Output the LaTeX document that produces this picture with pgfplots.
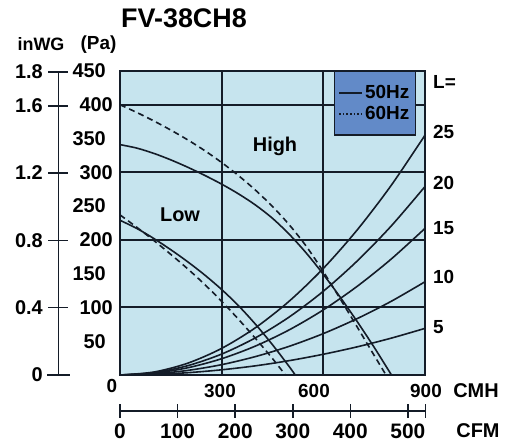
\documentclass[border=0pt]{standalone}
\usepackage{pgfplots}
\pgfplotsset{compat=1.18}
\usepackage{fontspec}
\setmainfont{Liberation Sans}
\definecolor{chartbg}{RGB}{198,228,238}
\definecolor{legbg}{RGB}{98,138,200}
\definecolor{ink}{RGB}{20,28,40}
\newcommand{\fs}[1]{\bfseries\fontsize{#1}{#1}\selectfont}

\begin{document}
\begin{tikzpicture}[x=1bp,y=1bp]
\path[use as bounding box] (0,0) rectangle (505,443);
\begin{axis}[
  at={(120bp,68bp)}, anchor=south west,
  scale only axis, width=305bp, height=304bp,
  xmin=0, xmax=900, ymin=0, ymax=450,
  axis background/.style={fill=chartbg},
  axis line style={line width=2.2bp, ink},
  axis on top,
  xtick={300,600}, xticklabels={},
  ytick={100,200,300,400},
  extra y ticks={50,150,250,350,450},
  extra y tick style={grid=none, yticklabel style={font=\fs{20}, inner sep=0pt, xshift=-7bp}},
  xmajorgrids, ymajorgrids,
  major tick length=0pt,
  grid style={line width=2bp, ink},
  yticklabel style={font=\fs{20}, inner sep=0pt, xshift=-7bp},
  /pgf/number format/assume math mode=true,
  legend style={at={(1,1)}, anchor=north east, xshift=-9bp,
    fill=legbg, draw=ink, line width=1.5bp, font=\fs{19},
    inner xsep=4bp, inner ysep=12bp, row sep=2bp},
  legend cell align=left,
  legend image code/.code={\draw[#1] (0bp,0bp) -- (23bp,0bp);},
]
% system curves L = 5 ... 25
\addplot[ink, line width=1.6bp, smooth, forget plot] coordinates {(0,0) (100,4.4) (200,17.5) (300,39.4) (400,70.1) (500,109.6) (600,157.8) (700,214.8) (800,280.5) (900,355)};
\addplot[ink, line width=1.6bp, smooth, forget plot] coordinates {(0,0) (100,3.4) (200,13.8) (300,31.0) (400,55.1) (500,86.1) (600,124.0) (700,168.8) (800,220.4) (900,279)};
\addplot[ink, line width=1.6bp, smooth, forget plot] coordinates {(0,0) (100,2.7) (200,10.7) (300,24.1) (400,42.9) (500,67.0) (600,96.4) (700,131.3) (800,171.5) (900,217)};
\addplot[ink, line width=1.6bp, smooth, forget plot] coordinates {(0,0) (100,1.7) (200,6.8) (300,15.3) (400,27.3) (500,42.6) (600,61.3) (700,83.5) (800,109.0) (900,138)};
\addplot[ink, line width=1.6bp, smooth, forget plot] coordinates {(0,0) (100,0.85) (200,3.4) (300,7.7) (400,13.6) (500,21.3) (600,30.7) (700,41.7) (800,54.5) (900,69)};
% High
\addplot[ink, line width=1.6bp, smooth, forget plot] coordinates {(0,341) (50,335.8) (100,328) (150,318.4) (200,307.5) (250,295.5) (300,282.5) (350,268) (400,251.5) (450,231.9) (500,208) (550,180.3) (600,149) (650,115) (700,79) (750,41) (801,0)};
\addplot[ink, line width=1.6bp, smooth, dash pattern=on 6bp off 4bp, forget plot] coordinates {(0,400) (50,388.5) (100,376) (150,362.5) (200,348) (250,332.1) (300,314.5) (350,295) (400,273.5) (450,249.4) (500,222) (550,190.3) (600,153) (650,112.5) (700,71) (750,29) (785,0)};
% Low
\addplot[ink, line width=1.6bp, smooth, forget plot] coordinates {(0,229) (50,216.8) (100,202) (150,185.4) (200,167.5) (250,148) (300,126.5) (350,102.4) (400,75) (450,44.8) (500,12) (517,0)};
\addplot[ink, line width=1.6bp, smooth, dash pattern=on 6bp off 4bp, forget plot] coordinates {(0,237) (50,218.5) (100,199) (150,178.5) (200,157) (250,134) (300,109) (350,82.3) (400,54) (450,24.3) (488,0)};
\addlegendimage{ink, line width=1.6bp}
\addlegendentry{50Hz}
\addlegendimage{ink, line width=1.6bp, dotted}
\addlegendentry{60Hz}
\end{axis}

% titles
\node[font=\fs{27}] at (184,425) {FV-38CH8};
\node[font=\fs{18}] at (41,399) {inWG};
\node[font=\fs{19}] at (98.5,398) {(Pa)};
\node[font=\fs{20}] at (275,297) {High};
\node[font=\fs{20}] at (180,228.5) {Low};

% inWG scale
\draw[ink, line width=1.6bp] (58.3,68) -- (58.3,371);
\foreach \y/\t in {371/1.8, 337.2/1.6, 270/1.2, 202.6/0.8, 135.3/0.4} {
  \draw[ink, line width=1.6bp] (48,\y) -- (68,\y);
  \node[font=\fs{20}, anchor=east, inner sep=0pt] at (43,\y) {\t};
}
\draw[ink, line width=1.6bp] (47,68) -- (70,68);
\node[font=\fs{20}, anchor=east, inner sep=0pt] at (43,68) {0};

% CMH labels
\node[font=\fs{19}] at (112,57) {0};
\node[font=\fs{19}] at (220,52) {300};
\node[font=\fs{19}] at (314,52) {600};
\node[font=\fs{19}] at (426,52) {900};
\node[font=\fs{20}] at (476,52) {CMH};

% CFM scale
\draw[ink, line width=1.6bp] (120,32) -- (425.5,32);
\foreach \x/\t in {120/0, 177.6/100, 235.2/200, 292.7/300, 350.3/400, 407.9/500} {
  \draw[ink, line width=1.6bp] (\x,25) -- (\x,39);
  \node[font=\fs{21}] at (\x,12) {\t};
}
\draw[ink, line width=1.6bp] (425.5,25) -- (425.5,39);
\node[font=\fs{20}] at (478,12) {CFM};

% L labels
\foreach \y/\t in {361/L=, 311.3/25, 260.3/20, 215/15, 166.3/10, 116.3/5} {
  \node[font=\fs{19}, anchor=west, inner sep=0pt] at (433,\y) {\t};
}
\end{tikzpicture}
\end{document}
